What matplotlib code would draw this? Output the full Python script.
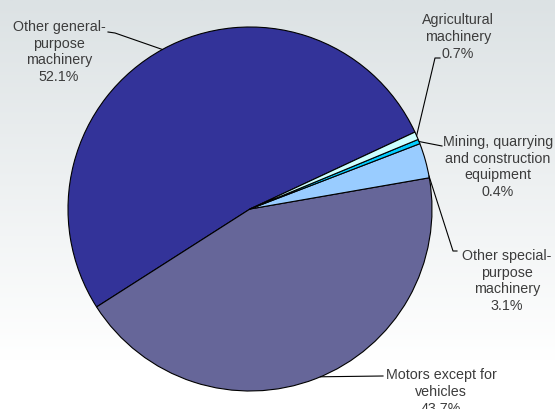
import numpy as np
import matplotlib.pyplot as plt

labels = ['Other general-\npurpose\nmachinery',
          'Motors except for\nvehicles',
          'Other special-\npurpose\nmachinery',
          'Mining, quarrying\nand construction\nequipment',
          'Agricultural\nmachinery']
shares = [52.1, 43.7, 3.1, 0.4, 0.7]
colors = ['#333399', '#666699', '#99ccff', '#00ccff', '#ccffff']

W, H = 555, 409
cx, cy, R = 250, H - 209, 182
start = 25.0

plt.rcParams['font.family'] = 'Liberation Sans'

fig = plt.figure(figsize=(W / 100, H / 100), dpi=100)
ax = fig.add_axes([0, 0, 1, 1])

# light grey to white backdrop, row 0 at the top
grad = np.linspace(0, 1, 256)[:, None]
top = np.array([220, 226, 228]) / 255
bot = np.array([255, 255, 255]) / 255
t = np.clip(grad / 0.88, 0, 1)
img = top[None, None, :] * (1 - t[..., None]) + bot[None, None, :] * t[..., None]
ax.imshow(img, extent=[0, W, 0, H], origin='upper', aspect='auto', zorder=0,
          interpolation='bilinear')

wedges, _ = ax.pie(shares, colors=colors, startangle=start, center=(cx, cy), radius=R,
                   wedgeprops=dict(edgecolor='black', linewidth=0.8), frame=True)

# label text position and leader elbow (in px from top-left) per slice
text_pos = [(59, 52), (441, 392), (507, 281), (498, 167), (458, 37)]
elbows = [[(115, 33), (108, 32)],
          [(383, 376)],
          [(453, 251), (457, 251)],
          [(442, 146)],
          [(435, 58), (440, 58)]]
edge_frac = [0.5, 0.51, 0.05, 0.5, 0.5]

for w, lab, val, (tx, ty), elb, f in zip(wedges, labels, shares, text_pos, elbows, edge_frac):
    ang = np.deg2rad(w.theta1 + f * (w.theta2 - w.theta1))
    x0, y0 = cx + R * np.cos(ang), cy + R * np.sin(ang)
    xs = [x0] + [p[0] for p in elb]
    ys = [y0] + [H - p[1] for p in elb]
    ax.plot(xs, ys, color='black', lw=0.8, zorder=3)
    ax.text(tx, H - ty, f'{lab}\n{val:.1f}%', ha='center', va='center',
            fontsize=10.3, color='#3c3c3c', linespacing=1.25, zorder=4)

ax.set_xlim(0, W)
ax.set_ylim(0, H)
ax.set_aspect('auto')
ax.axis('off')

fig.savefig('out.png', dpi=100)
